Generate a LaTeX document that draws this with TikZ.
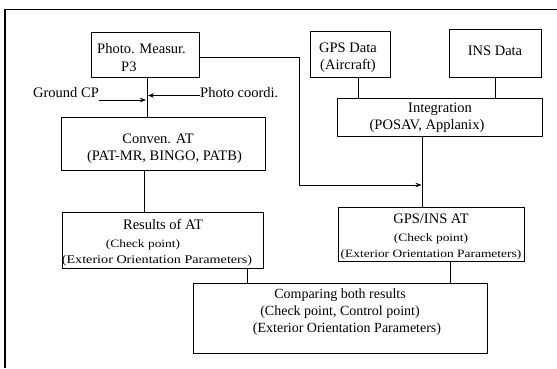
\documentclass[tikz,border=0pt]{standalone}
\usepackage{fontspec}
\setmainfont{Liberation Serif}
\newfontfamily\stretchfont[FakeStretch=1.2]{Liberation Serif}
\usetikzlibrary{arrows.meta}
\begin{document}
\begin{tikzpicture}[x=1pt,y=-1pt,
  box/.style={draw, line width=0.8pt, inner sep=0pt},
  txt/.style={inner sep=0pt, anchor=base, font=\fontsize{14.5}{17}\selectfont},
  txtc/.style={inner sep=0pt, anchor=base, font=\fontsize{14}{17}\selectfont},
  sml/.style={inner sep=0pt, anchor=base, font=\stretchfont\fontsize{11.2}{13}\selectfont},
  conn/.style={line width=0.7pt},
  arr/.style={conn, -{Stealth[length=6pt,width=4.5pt]}}]
\useasboundingbox (0,0) rectangle (557,368);
\fill[white] (0,0) rectangle (557,368);
\draw[line width=1.3pt] (557,9.5) -- (5,9.5) -- (5,368);

% boxes
\node[box, minimum width=108pt, minimum height=45pt] (photo) at (145,54.5) {};
\node[box, minimum width=204pt, minimum height=53pt] (conv) at (163,143.5) {};
\node[box, minimum width=201pt, minimum height=56pt] (res) at (162.5,240) {};
\node[box, minimum width=80pt, minimum height=46pt] (gps) at (350,54) {};
\node[box, minimum width=92pt, minimum height=48pt] (ins) at (495,53) {};
\node[box, minimum width=205pt, minimum height=38pt] (integ) at (439.5,117) {};
\node[box, minimum width=186pt, minimum height=54pt] (gpsins) at (431,234) {};
\node[box, minimum width=294pt, minimum height=70pt] (comp) at (340,318) {};

% texts
\node[txt, anchor=base west] (t1a) at (97,53) {Photo. Measur.};
\node[txt, anchor=base west] (t1b) at (121,71) {P3};
\node[txt] (t2a) at (158,143) {Conven. AT};
\node[txt] (t2b) at (164.5,160) {(PAT-MR, BINGO, PATB)};
\node[txt] (t3a) at (163,229) {Results of AT};
\node[sml] (t3b) at (143,247) {(Check point)};
\node[sml, font=\stretchfont\fontsize{11.8}{13}\selectfont] (t3c) at (157,263) {(Exterior Orientation Parameters)};
\node[txt] (t4a) at (348,52) {GPS Data};
\node[txt] (t4b) at (348,69) {(Aircraft)};
\node[txt] (t5a) at (495,55) {INS Data};
\node[txt] (t6a) at (440,112) {Integration};
\node[txt] (t6b) at (427,129) {(POSAV, Applanix)};
\node[txt] (t7a) at (431,223) {GPS/INS AT};
\node[sml] (t7b) at (431,241) {(Check point)};
\node[sml] (t7c) at (431,257) {(Exterior Orientation Parameters)};
\node[txtc] (t8a) at (340,298) {Comparing both results};
\node[txtc] (t8b) at (340,315) {(Check point, Control point)};
\node[txtc] (t8c) at (347,332) {(Exterior Orientation Parameters)};

\node[txt, anchor=base west] (gcp) at (33,97) {Ground CP};
\node[txt, anchor=base west] (pco) at (200,97) {Photo coordi.};

% connectors
\coordinate (jx) at (147,94);
\coordinate (ix) at (422,0);
\coordinate (bend) at (299,185);
\coordinate (gcpend) at ([yshift=-3pt]gcp.base east);
\coordinate (pcoend) at ([yshift=1.5pt]pco.base west);
\draw[conn] (photo.south -| jx) -- (conv.north -| jx);
\draw[arr] (gcpend) -- ([xshift=-1pt]gcpend -| jx);
\draw[arr] (pcoend) -- ([xshift=1pt]pcoend -| jx);
\draw[arr] ([yshift=-2.5pt]photo.east) -| (bend) -- ([xshift=-0.5pt]bend -| ix);
\draw[conn] ([xshift=8pt]gps.south) -- ([xshift=8pt]gps.south |- integ.north);
\draw[conn] (ins.south) -- (ins.south |- integ.north);
\draw[conn] (integ.south -| ix) -- (gpsins.north -| ix);
\draw[conn] ([xshift=-19pt]conv.south) -- ([xshift=-19pt]conv.south |- res.north);
\draw[conn] ([xshift=84.5pt]res.south) -- ([xshift=84.5pt]res.south |- comp.north);
\draw[conn] ([xshift=19pt]gpsins.south) -- ([xshift=19pt]gpsins.south |- comp.north);
\end{tikzpicture}
\end{document}
